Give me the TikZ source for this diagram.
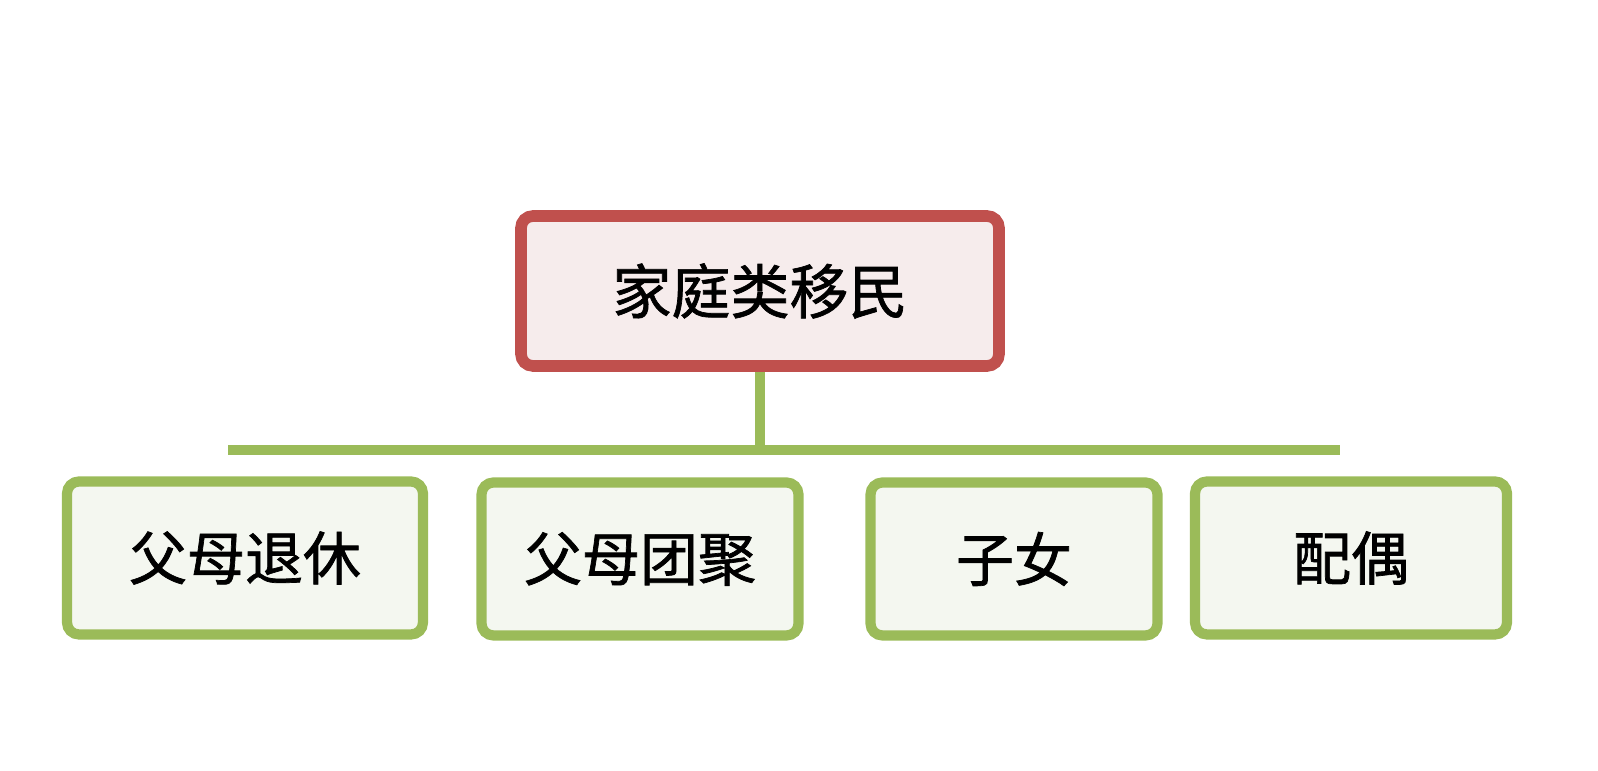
\documentclass[tikz,border=0pt]{standalone}
\usepackage{fontspec}
\newfontfamily\cjk{Noto Sans CJK SC}[FakeBold=1.2]
\usepackage{tikz}
\usetikzlibrary{positioning}

\definecolor{rootred}{RGB}{192,80,77}
\definecolor{rootfill}{RGB}{246,236,236}
\definecolor{leafgreen}{RGB}{155,187,89}
\definecolor{leaffill}{RGB}{244,247,240}

\begin{document}
\begin{tikzpicture}[
rootnode/.style={rectangle, rounded corners=1.2mm, draw=rootred, fill=rootfill, line width=3.3pt, minimum width=4.78cm, minimum height=1.5cm, font=\cjk\fontsize{16.8}{16.8}\selectfont},
leafnode/.style={rectangle, rounded corners=1.2mm, draw=leafgreen, fill=leaffill, line width=2.9pt, minimum height=1.53cm, font=\cjk\fontsize{16.5}{16.5}\selectfont},
branch/.style={draw=leafgreen, line width=2.9pt},
]
\useasboundingbox (0,0) rectangle (15.98,7.71);
%Nodes
\node[rootnode]                         (family)   at (7.60,4.80) {家庭类移民};
\node[leafnode, minimum width=3.56cm]   (retire)   at (2.45,2.13) {父母退休};
\node[leafnode, minimum width=3.17cm]   (reunion)  at (6.40,2.12) {父母团聚};
\node[leafnode, minimum width=2.87cm]   (children) at (10.14,2.12) {子女};
\node[leafnode, minimum width=3.12cm]   (spouse)   at (13.51,2.13) {配偶};
\coordinate (barL) at (2.28,3.21);
\coordinate (barR) at (13.40,3.21);

%Lines
\draw[branch] (family.south) -- (family.south |- barL);
\draw[branch] (barL) -- (barR);
\end{tikzpicture}
\end{document}
